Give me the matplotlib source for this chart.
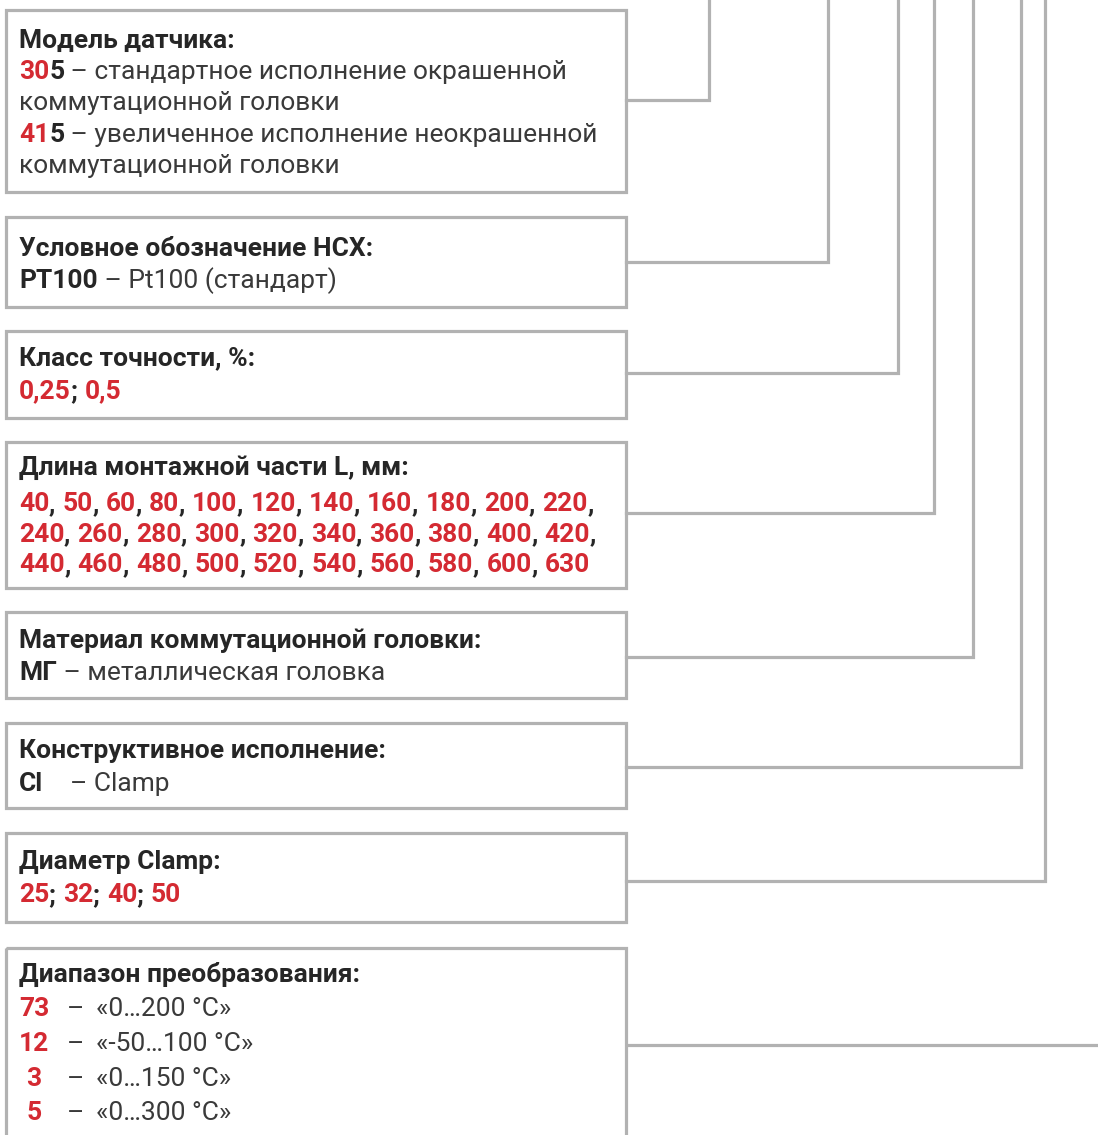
import matplotlib
matplotlib.use("Agg")
import matplotlib.pyplot as plt
from matplotlib.patches import Rectangle

RED = "#d42a32"
DARK = "#262626"
TXT = "#3a3a3a"
GRAY = "#b2b2b2"

plt.rcParams['font.family'] = ['Roboto', 'DejaVu Sans']

# --- contenu des cases ---
titres = ["Модель датчика:",
          "Условное обозначение НСХ:",
          "Класс точности, %:",
          "Длина монтажной части L, мм:",
          "Материал коммутационной головки:",
          "Конструктивное исполнение:",
          "Диаметр Clamp:",
          "Диапазон преобразования:"]

modeles = ["305", "415"]
modeles_txt = [" – стандартное исполнение окрашенной", " – увеличенное исполнение неокрашенной"]
suite_txt = "коммутационной головки"
classes = ["0,25", "0,5"]
longueurs = [40, 50, 60, 80, 100, 120, 140, 160, 180, 200, 220,
             240, 260, 280, 300, 320, 340, 360, 380, 400, 420,
             440, 460, 480, 500, 520, 540, 560, 580, 600, 630]
diametres = ["25", "32", "40", "50"]
codes_plage = ["73", "12", "3", "5"]
plages = ["«0…200 °C»", "«-50…100 °C»", "«0…150 °C»", "«0…300 °C»"]

# --- mise en page (pixels) ---
W, H = 1098, 1135
boites = [(10, 192), (217, 307), (331, 418), (442, 588),
          (612, 698), (723, 808), (833, 922), (948, 1145)]
x_g, x_d = 6, 626
y_liens = [100, 262, 373, 513, 657, 767, 881, 1045]
x_liens = [709, 828, 898, 934, 973, 1021, 1045, W + 5]
coupes = [(0, 11), (11, 21), (21, 31)]

fig = plt.figure(figsize=(W / 100, H / 100), dpi=100)
ax = fig.add_axes([0, 0, 1, 1])
ax.set_xlim(0, W)
ax.set_ylim(H, 0)
ax.axis('off')
rend = fig.canvas.get_renderer()

FS = 19


def ligne(x, y, morceaux, fs=FS):
    # morceaux = liste de (texte, couleur, gras)
    for t, c, b in morceaux:
        tx = ax.text(x, y, t, color=c, fontsize=fs,
                     fontweight='bold' if b else 'normal', va='baseline', ha='left')
        bb = tx.get_window_extent(renderer=rend)
        x = x + bb.width
    return x


for (y0, y1), yl, xl in zip(boites, y_liens, x_liens):
    ax.add_patch(Rectangle((x_g, y0), x_d - x_g, y1 - y0, fill=False,
                           edgecolor=GRAY, linewidth=2.3))
    if xl > W:
        ax.plot([x_d, xl], [yl, yl], color=GRAY, linewidth=2.3, solid_capstyle='butt')
    else:
        ax.plot([x_d, xl, xl], [yl, yl, -5], color=GRAY, linewidth=2.3,
                solid_joinstyle='miter')

X0 = 19
dy = 8
# case 1
ligne(X0, 40 + dy, [(titres[0], DARK, True)])
ys = [71, 134]
for m, t, y in zip(modeles, modeles_txt, ys):
    ligne(X0, y + dy, [(m[:2], RED, True), (m[2], DARK, True), (t, TXT, False)])
    ligne(X0, y + 31 + dy, [(suite_txt, TXT, False)])

# case 2
ligne(X0, 248 + dy, [(titres[1], DARK, True)])
ligne(X0, 280 + dy, [("PT100", DARK, True), (" – Pt100 (стандарт)", TXT, False)])

# case 3
ligne(X0, 357 + dy, [(titres[2], DARK, True)])
m = []
for i, c in enumerate(classes):
    if i:
        m.append(("; ", DARK, True))
    m.append((c, RED, True))
ligne(X0, 390 + dy, m)

# case 4
ligne(X0, 467 + dy, [(titres[3], DARK, True)])
for r, (a, b) in enumerate(coupes):
    rang = longueurs[a:b]
    m = []
    for i, v in enumerate(rang):
        m.append((str(v), RED, True))
        if i < len(rang) - 1 or r < 2:
            m.append((", ", DARK, True))
    ligne(X0, 503 + r * 30.5 + dy, m)

# case 5
ligne(X0, 640 + dy, [(titres[4], DARK, True)])
ligne(X0, 672 + dy, [("МГ", DARK, True), (" – металлическая головка", TXT, False)])

# case 6
ligne(X0, 750 + dy, [(titres[5], DARK, True)])
ligne(X0, 783 + dy, [("Cl", DARK, True)])
ligne(70, 783 + dy, [("– Clamp", TXT, False)])

# case 7
ligne(X0, 861 + dy, [(titres[6], DARK, True)])
m = []
for i, c in enumerate(diametres):
    if i:
        m.append(("; ", DARK, True))
    m.append((c, RED, True))
ligne(X0, 894 + dy, m)

# case 8
ligne(X0, 974 + dy, [(titres[7], DARK, True)])
for i, (c, p) in enumerate(zip(codes_plage, plages)):
    y = 1008 + i * 34.8 + dy
    ax.text(34, y, c, color=RED, fontsize=FS, fontweight='bold', ha='center', va='baseline')
    ax.text(67, y, "–", color=TXT, fontsize=FS, ha='left', va='baseline')
    ax.text(96, y, p, color=TXT, fontsize=FS, ha='left', va='baseline')

fig.savefig("out.png", dpi=100, facecolor='white')
